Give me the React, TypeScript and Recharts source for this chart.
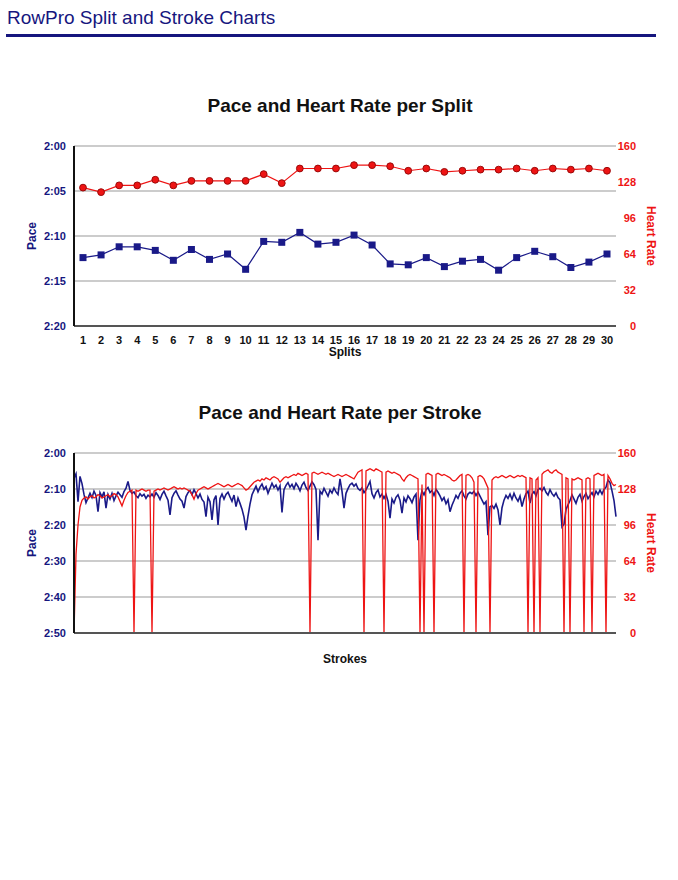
import React from "react";
import { ComposedChart, Line, XAxis, YAxis, CartesianGrid } from "recharts";

const FONT = '"Liberation Sans", Arial, Helvetica, sans-serif';
const NAVY = "#16167e";
const BLUE = "#1a1a88";
const RED = "#ee1414";

// per split (pace in seconds per 500m, HR in bpm)
const SPLITS = [
  1, 2, 3, 4, 5, 6, 7, 8, 9, 10, 11, 12, 13, 14, 15,
  16, 17, 18, 19, 20, 21, 22, 23, 24, 25, 26, 27, 28, 29, 30,
];
const SPLIT_PACE = [
  132.4, 132.1, 131.2, 131.2, 131.6, 132.7, 131.5, 132.6, 132.0, 133.7,
  130.6, 130.7, 129.6, 130.9, 130.7, 129.9, 131.0, 133.1, 133.2, 132.4,
  133.4, 132.8, 132.6, 133.8, 132.4, 131.7, 132.3, 133.5, 132.9, 132.0,
];
const SPLIT_HR = [
  123, 119, 125, 125, 130, 125, 129, 129, 129, 129,
  135, 127, 140, 140, 140, 143, 143, 142, 138, 140,
  137, 138, 139, 139, 140, 138, 140, 139, 140, 138,
];

const SPLIT_PACE_TICKS = [120, 125, 130, 135, 140];
const STROKE_PACE_TICKS = [120, 130, 140, 150, 160, 170];
const HR_TICKS = [0, 32, 64, 96, 128, 160];

// per stroke (sampled)
const STROKE_PACE = [
  127, 125.8, 133.5, 126.5, 128.5, 131.5, 133.8, 132.5, 131.2, 132.4,
  130.6, 131.8, 136.3, 131.0, 132.2, 130.8, 135.3, 131.5, 132.8, 131.2,
  133.2, 131.9, 130.9, 131.6, 132.3, 130.7, 129.8, 127.9, 130.4, 131.2,
  130.8, 131.9, 132.4, 131.3, 132.0, 131.5, 132.6, 131.7, 132.2, 131.4,
  132.3, 131.0, 131.8, 132.9, 131.5, 130.6, 131.9, 133.1, 137.2, 132.4,
  131.2, 130.5, 131.7, 132.8, 133.4, 135.3, 132.1, 131.0, 130.4, 131.6,
  130.2, 131.3, 132.5, 131.4, 132.9, 133.6, 137.7, 132.3, 133.5, 138.6,
  133.0, 131.8, 140.0, 132.6, 131.4, 132.8, 131.5, 130.9, 132.2, 133.4,
  131.7, 134.9, 132.5, 134.0, 135.6, 137.8, 141.4, 137.5, 134.2, 131.6,
  130.4, 129.2, 130.8, 129.5, 128.6, 130.1, 129.3, 131.2, 129.8, 128.4,
  129.6, 128.9, 130.3, 129.1, 136.5, 130.2, 129.0, 128.2, 129.5, 128.7,
  129.9, 128.4, 129.3, 130.5, 128.9, 128.1, 129.6, 130.4, 129.2, 128.0,
  128.8, 130.1, 144.2, 130.6, 131.4, 129.8, 130.9, 132.0, 130.3, 131.1,
  129.7, 130.8, 131.5, 127.2, 130.6, 135.3, 131.2, 129.9, 128.8, 128.4,
  129.2, 128.6, 129.9, 130.4, 129.7, 131.0, 130.2, 129.1, 127.9, 131.3,
  132.5, 131.0, 130.3, 132.2, 131.4, 132.6, 131.5, 133.4, 138.1, 132.8,
  133.9, 132.3, 131.6, 133.1, 136.7, 132.5, 133.6, 131.9, 132.7, 133.8,
  132.2, 131.4, 144.2, 133.0, 130.5, 131.6, 130.2, 129.6, 131.0, 130.4,
  131.8, 130.1, 130.9, 131.9, 133.2, 132.4, 134.1, 133.0, 136.3, 134.5,
  133.2, 131.8, 132.6, 131.2, 130.5, 131.9, 132.8, 131.4, 130.9, 131.3,
  130.6, 131.8, 130.9, 132.0, 133.1, 134.2, 133.5, 142.8, 134.9, 134.6,
  135.4, 134.2, 135.8, 140.0, 135.2, 133.1, 131.8, 132.6, 131.4, 132.9,
  131.2, 132.5, 133.4, 132.0, 134.9, 132.8, 131.3, 130.6, 133.9, 131.5,
  130.7, 131.9, 130.2, 129.8, 130.5, 129.6, 130.9, 131.7, 130.2, 131.3,
  132.0, 131.1, 132.4, 133.0, 140.5, 139.8, 135.7, 134.4, 133.2, 131.6,
  132.8, 134.0, 132.3, 131.5, 133.4, 132.1, 131.2, 132.7, 131.8, 131.0,
  132.2, 130.6, 131.5, 130.3, 131.4, 130.1, 129.5, 127.5, 128.2, 130.5,
  133.2, 137.7,
];
const STROKE_HR = [
  0, 70, 96, 112, 118, 120, 121, 119, 121, 122,
  120, 121, 123, 122, 120, 121, 122, 123, 121, 122,
  124, 123, 121, 117, 113, 118, 122, 125, 126, 127,
  0, 127, 126, 127, 128, 127, 126, 127, 127, 0,
  126, 127, 128, 127, 128, 129, 128, 127, 128, 129,
  130, 129, 128, 129, 128, 129, 128, 127, 126, 123,
  119, 124, 127, 128, 129, 130, 129, 128, 129, 130,
  131, 132, 133, 132, 131, 130, 131, 132, 131, 130,
  131, 132, 133, 132, 131, 129, 127, 128, 130, 132,
  134, 135, 136, 135, 137, 136, 138, 137, 136, 138,
  139, 138, 137, 134, 136, 138, 139, 138, 139, 140,
  141, 140, 142, 141, 140, 141, 142, 141, 0, 142,
  143, 142, 141, 142, 143, 142, 141, 142, 141, 140,
  139, 140, 141, 140, 139, 140, 141, 140, 139, 138,
  137, 140, 143, 144, 145, 0, 144, 145, 146, 145,
  144, 146, 145, 144, 143, 0, 143, 144, 143, 142,
  143, 142, 141, 140, 137, 135, 138, 140, 141, 140,
  139, 138, 137, 0, 132, 0, 141, 142, 141, 140,
  0, 141, 142, 141, 140, 141, 140, 139, 138, 136,
  135, 136, 138, 140, 141, 0, 140, 141, 140, 138,
  134, 0, 139, 140, 139, 137, 133, 129, 0, 136,
  138, 139, 138, 139, 140, 139, 138, 139, 140, 139,
  138, 139, 140, 139, 140, 139, 138, 0, 138, 137,
  0, 136, 138, 0, 141, 143, 144, 145, 143, 142,
  144, 145, 143, 142, 141, 0, 138, 137, 0, 137,
  136, 137, 138, 137, 136, 0, 137, 138, 137, 0,
  140, 141, 142, 141, 140, 141, 0, 140, 137, 133,
  131, 132,
];

const splitRows = SPLITS.map((s, i) => ({ split: s, pace: SPLIT_PACE[i], hr: SPLIT_HR[i] }));
const strokeRows = STROKE_PACE.map((p, i) => ({ i, pace: p, hr: STROKE_HR[i] }));

const fmtPace = (s: number) => {
  const m = Math.floor(s / 60);
  const r = Math.round(s % 60);
  return `${m}:${r < 10 ? "0" : ""}${r}`;
};

const leftTick = { fill: NAVY, fontSize: 11, fontWeight: "bold", fontFamily: FONT };
const axisLabel = (color: string) => ({ fill: color, fontSize: 12, fontWeight: "bold", fontFamily: FONT, textAnchor: "middle" as const });

function HrTick({ x, y, payload }: any) {
  return (
    <text x={x + 20} y={y} dy={4} textAnchor="end" fill={RED} fontSize={11} fontWeight="bold" fontFamily={FONT}>
      {payload.value}
    </text>
  );
}

function SquareDot({ cx, cy, index }: any) {
  return <rect key={`sq${index}`} x={cx - 3.5} y={cy - 3.5} width={7} height={7} fill={BLUE} />;
}

const titleStyle: React.CSSProperties = {
  position: "absolute",
  left: 0,
  width: 680,
  textAlign: "center",
  fontFamily: FONT,
  fontWeight: "bold",
  fontSize: 19,
  lineHeight: "19px",
  color: "#111",
};

export default function App() {
  return (
    <div style={{ position: "absolute", left: 0, top: 0, width: 678, height: 880, background: "#fff" }}>
      <div style={{ position: "absolute", left: 7, top: 8, fontFamily: FONT, fontSize: 19, lineHeight: "19px", color: NAVY }}>
        RowPro Split and Stroke Charts
      </div>
      <div style={{ position: "absolute", left: 6, top: 34, width: 650, height: 3, background: NAVY }} />

      <div style={{ ...titleStyle, top: 96 }}>Pace and Heart Rate per Split</div>
      <div style={{ position: "absolute", left: 0, top: 0 }}>
        <ComposedChart width={678} height={372} data={splitRows} margin={{ top: 146, right: 12, left: 24, bottom: 14 }}>
          <CartesianGrid yAxisId="pace" vertical={false} stroke="#999" />
          <XAxis
            dataKey="split"
            interval={0}
            padding={{ left: 9, right: 9 }}
            tickLine={false}
            tickSize={0}
            tickMargin={10}
            height={32}
            axisLine={{ stroke: "#555", strokeWidth: 2 }}
            tick={{ fill: "#111", fontSize: 11, fontWeight: "bold", fontFamily: FONT }}
            label={{ value: "Splits", position: "insideBottom", offset: 2, style: axisLabel("#111") }}
          />
          <YAxis
            yAxisId="pace"
            orientation="left"
            width={50}
            reversed
            domain={[120, 140]}
            ticks={SPLIT_PACE_TICKS}
            tickFormatter={fmtPace}
            tickLine={false}
            tickSize={0}
            tickMargin={8}
            axisLine={{ stroke: "#111", strokeWidth: 2 }}
            tick={leftTick}
            label={{ value: "Pace", angle: -90, position: "insideLeft", offset: 8, style: axisLabel(NAVY) }}
          />
          <YAxis
            yAxisId="hr"
            orientation="right"
            width={50}
            domain={[0, 160]}
            ticks={HR_TICKS}
            tickLine={false}
            tickSize={0}
            tickMargin={0}
            axisLine={false}
            tick={<HrTick />}
            label={{ value: "Heart Rate", angle: 90, position: "insideRight", offset: 15, style: axisLabel(RED) }}
          />
          <Line
            yAxisId="pace"
            dataKey="pace"
            type="linear"
            stroke={BLUE}
            strokeWidth={1.2}
            dot={<SquareDot />}
            isAnimationActive={false}
          />
          <Line
            yAxisId="hr"
            dataKey="hr"
            type="linear"
            stroke={RED}
            strokeWidth={1.2}
            dot={{ r: 3.4, fill: RED, stroke: "#9c0a0a", strokeWidth: 1 }}
            isAnimationActive={false}
          />
        </ComposedChart>
      </div>

      <div style={{ ...titleStyle, top: 403 }}>Pace and Heart Rate per Stroke</div>
      <div style={{ position: "absolute", left: 0, top: 380 }}>
        <ComposedChart width={678} height={300} data={strokeRows} margin={{ top: 73, right: 12, left: 24, bottom: 17 }}>
          <CartesianGrid yAxisId="pace" vertical={false} stroke="#999" />
          <XAxis
            dataKey="i"
            type="number"
            domain={[0, STROKE_PACE.length - 1]}
            tick={false}
            tickLine={false}
            height={30}
            axisLine={{ stroke: "#555", strokeWidth: 2 }}
            label={{ value: "Strokes", position: "insideBottom", offset: 0, style: axisLabel("#111") }}
          />
          <YAxis
            yAxisId="pace"
            orientation="left"
            width={50}
            reversed
            domain={[120, 170]}
            ticks={STROKE_PACE_TICKS}
            tickFormatter={fmtPace}
            tickLine={false}
            tickSize={0}
            tickMargin={8}
            axisLine={{ stroke: "#111", strokeWidth: 2 }}
            tick={leftTick}
            label={{ value: "Pace", angle: -90, position: "insideLeft", offset: 8, style: axisLabel(NAVY) }}
          />
          <YAxis
            yAxisId="hr"
            orientation="right"
            width={50}
            domain={[0, 160]}
            ticks={HR_TICKS}
            tickLine={false}
            tickSize={0}
            tickMargin={0}
            axisLine={false}
            tick={<HrTick />}
            label={{ value: "Heart Rate", angle: 90, position: "insideRight", offset: 15, style: axisLabel(RED) }}
          />
          <Line
            yAxisId="pace"
            dataKey="pace"
            type="linear"
            stroke={BLUE}
            strokeWidth={1.6}
            dot={false}
            isAnimationActive={false}
          />
          <Line
            yAxisId="hr"
            dataKey="hr"
            type="linear"
            stroke={RED}
            strokeWidth={1.3}
            dot={false}
            isAnimationActive={false}
          />
        </ComposedChart>
      </div>
    </div>
  );
}
